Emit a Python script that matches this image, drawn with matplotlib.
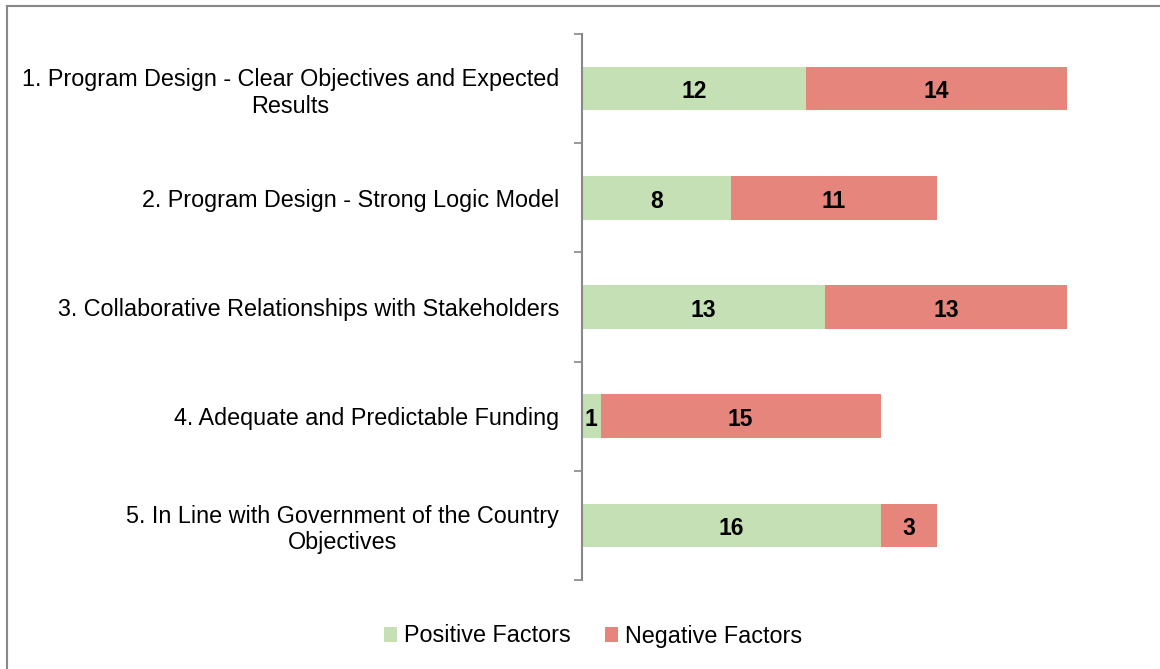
import matplotlib
matplotlib.use("Agg")
import matplotlib.pyplot as plt
from matplotlib.lines import Line2D
import numpy as np

categories = [
    "1. Program Design - Clear Objectives and Expected\nResults",
    "2. Program Design - Strong Logic Model",
    "3. Collaborative Relationships with Stakeholders",
    "4. Adequate and Predictable Funding",
    "5. In Line with Government of the Country\nObjectives",
]
positive = [12, 8, 13, 1, 16]
negative = [14, 11, 13, 15, 3]
series_names = ["Positive Factors", "Negative Factors"]

GREEN = "#C5E0B4"
RED = "#E6857B"

plt.rcParams['font.family'] = ['Liberation Sans', 'DejaVu Sans']

fig = plt.figure(figsize=(11.6, 6.69), dpi=100)
ax = fig.add_axes([582/1160, 1-580/669, (1142-582)/1160, (580-34)/669])

y = np.arange(len(categories))
h = 0.4
b1 = ax.barh(y, positive, height=h, color=GREEN, label=series_names[0])
b2 = ax.barh(y, negative, left=positive, height=h, color=RED, label=series_names[1])

for i in range(len(categories)):
    ax.text(positive[i] / 2, y[i] + 0.03, str(positive[i]), ha='center', va='center',
            fontsize=16.5, fontweight='bold', color='black')
    ax.text(positive[i] + negative[i] / 2, y[i] + 0.03, str(negative[i]), ha='center', va='center',
            fontsize=16.5, fontweight='bold', color='black')

ax.set_xlim(0, 30)
ax.set_ylim(len(categories) - 0.5, -0.5)
ax.set_yticks(y)
ax.set_yticklabels(categories, fontsize=16.8, ha='right', multialignment='center',
                   linespacing=1.2)
ax.set_yticks(np.arange(-0.5, len(categories)), minor=True)
ax.tick_params(axis='y', which='major', length=0, pad=16.5)
ax.tick_params(axis='y', which='minor', length=6, width=1.2, color='#888888', direction='out')
ax.set_xticks([])
for s in ['top', 'right', 'bottom']:
    ax.spines[s].set_visible(False)
ax.spines['left'].set_color('#888888')
ax.spines['left'].set_linewidth(1.5)

fig.legend(handles=[b1, b2], labels=series_names, loc='center',
           bbox_to_anchor=(593/1160, 1-636/669), ncol=2, frameon=False,
           fontsize=16.8, handlelength=0.55, handleheight=0.65, handletextpad=0.3,
           columnspacing=1.5)

# outer border (top and left visible)
fig.add_artist(Line2D([7/1160, 1], [1-6/669, 1-6/669], transform=fig.transFigure,
                      color='#888888', linewidth=1.5))
fig.add_artist(Line2D([7/1160, 7/1160], [0, 1-6/669], transform=fig.transFigure,
                      color='#888888', linewidth=1.5))

fig.savefig("out.png", dpi=100)
